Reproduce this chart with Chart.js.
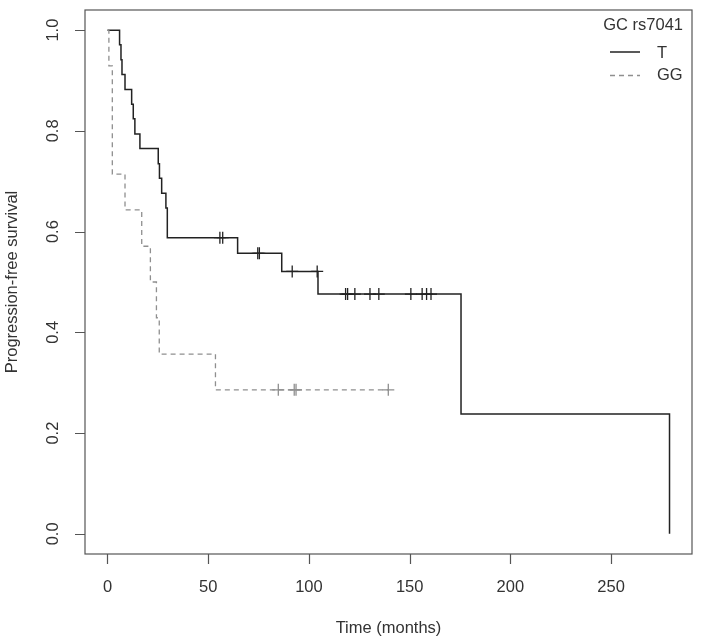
<!DOCTYPE html>
<html>
<head>
<meta charset="utf-8">
<script src="https://cdn.jsdelivr.net/npm/chart.js@4.4.1/dist/chart.umd.min.js"></script>
<style>
  html, body { margin: 0; padding: 0; background: #fff; }
  #wrap { width: 706px; height: 642px; }
</style>
</head>
<body>
<div id="wrap"><canvas id="km" width="706" height="642"></canvas></div>
<script>
// Kaplan-Meier steps: time of each drop and survival after it
const tTimes = [0, 6, 6.7, 7.2, 8.7, 12, 12.8, 13.6, 16.1, 25.2, 25.8, 26.9, 29, 29.7, 64.6, 86.5, 104.5, 175.5, 279];
const tSurv = [1, 0.971, 0.941, 0.912, 0.882, 0.853, 0.824, 0.794, 0.765, 0.735, 0.706, 0.676, 0.647, 0.588, 0.557, 0.521, 0.476, 0.238, 0];
const tCensorTimes = [55.8, 57.2, 74.6, 75.4, 91.7, 104.1, 118.2, 119.2, 122.8, 130.3, 134.7, 150.6, 156.2, 158.4, 160.6];
const tCensorSurv = [0.588, 0.588, 0.557, 0.557, 0.521, 0.521, 0.476, 0.476, 0.476, 0.476, 0.476, 0.476, 0.476, 0.476, 0.476];

const ggTimes = [0, 0.7, 2.4, 8.7, 17, 21.3, 24.3, 25.7, 53.6, 139.4];
const ggSurv = [1, 0.929, 0.714, 0.643, 0.571, 0.5, 0.429, 0.357, 0.286, 0.286];
const ggCensorTimes = [84.8, 92.7, 93.6, 139.4];
const ggCensorSurv = [0.286, 0.286, 0.286, 0.286];

const groups = ['T', 'GG'];
const xTicks = [0, 50, 100, 150, 200, 250];
const yTicks = [0, 0.2, 0.4, 0.6, 0.8, 1.0];

const FONT = '16.5px "Liberation Sans", Arial, sans-serif';
const DARK = '#222';
const GREY = '#8f8f8f';
const DASH = [5, 4];

const toXY = (xs, ys) => xs.map((v, i) => ({ x: v, y: ys[i] }));

// R style box, ticks, labels and legend
const rAxes = {
  id: 'rAxes',
  afterDraw(chart) {
    const { ctx, chartArea: a } = chart;
    const x = chart.scales.x, y = chart.scales.y;
    ctx.save();
    ctx.strokeStyle = '#555';
    ctx.lineWidth = 1.2;
    ctx.strokeRect(a.left, a.top, a.right - a.left, a.bottom - a.top);

    ctx.beginPath();
    xTicks.forEach(v => {
      const px = Math.round(x.getPixelForValue(v)) + 0.5;
      ctx.moveTo(px, a.bottom);
      ctx.lineTo(px, a.bottom + 10);
    });
    yTicks.forEach(v => {
      const py = Math.round(y.getPixelForValue(v)) + 0.5;
      ctx.moveTo(a.left, py);
      ctx.lineTo(a.left - 10, py);
    });
    ctx.stroke();

    ctx.fillStyle = '#333';
    ctx.font = FONT;
    ctx.textAlign = 'center';
    ctx.textBaseline = 'middle';
    xTicks.forEach(v => ctx.fillText(String(v), x.getPixelForValue(v), a.bottom + 33));
    ctx.fillText('Time (months)', (a.left + a.right) / 2, a.bottom + 74);

    yTicks.forEach(v => {
      ctx.save();
      ctx.translate(a.left - 32, y.getPixelForValue(v));
      ctx.rotate(-Math.PI / 2);
      ctx.fillText(v.toFixed(1), 0, 0);
      ctx.restore();
    });
    ctx.save();
    ctx.translate(12, (a.top + a.bottom) / 2);
    ctx.rotate(-Math.PI / 2);
    ctx.fillText('Progression-free survival', 0, 0);
    ctx.restore();

    // legend
    ctx.textAlign = 'right';
    ctx.fillText('GC rs7041', 683, 25);
    ctx.textAlign = 'left';
    ctx.fillText(groups[0], 657, 53);
    ctx.fillText(groups[1], 657, 75);
    ctx.lineWidth = 1.5;
    ctx.strokeStyle = DARK;
    ctx.beginPath(); ctx.moveTo(610, 52); ctx.lineTo(640, 52); ctx.stroke();
    ctx.strokeStyle = GREY;
    ctx.lineWidth = 1.3;
    ctx.setLineDash(DASH);
    ctx.beginPath(); ctx.moveTo(610, 75.5); ctx.lineTo(640, 75.5); ctx.stroke();
    ctx.restore();
  }
};

new Chart(document.getElementById('km'), {
  type: 'line',
  data: {
    datasets: [
      {
        label: groups[1],
        data: toXY(ggTimes, ggSurv),
        borderColor: GREY,
        borderWidth: 1.3,
        borderDash: DASH,
        stepped: 'before',
        pointRadius: 0,
        fill: false
      },
      {
        label: groups[1] + ' censored',
        data: toXY(ggCensorTimes, ggCensorSurv),
        showLine: false,
        pointStyle: 'cross',
        pointRadius: 6,
        pointBorderWidth: 1.3,
        pointBorderColor: GREY
      },
      {
        label: groups[0],
        data: toXY(tTimes, tSurv),
        borderColor: DARK,
        borderWidth: 1.5,
        stepped: 'before',
        pointRadius: 0,
        fill: false
      },
      {
        label: groups[0] + ' censored',
        data: toXY(tCensorTimes, tCensorSurv),
        showLine: false,
        pointStyle: 'cross',
        pointRadius: 6,
        pointBorderWidth: 1.3,
        pointBorderColor: DARK
      }
    ]
  },
  options: {
    responsive: false,
    devicePixelRatio: 1,
    animation: false,
    layout: { padding: { left: 85, right: 14, top: 10, bottom: 88 } },
    scales: {
      x: { type: 'linear', min: -11.16, max: 290.16, display: false },
      y: { type: 'linear', min: -0.04, max: 1.04, display: false }
    },
    plugins: {
      legend: { display: false },
      tooltip: { enabled: false }
    }
  },
  plugins: [rAxes]
});
</script>
</body>
</html>
